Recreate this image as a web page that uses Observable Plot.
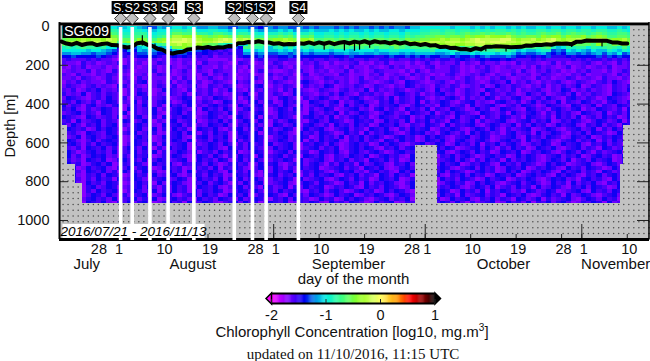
<!DOCTYPE html>
<html><head><meta charset="utf-8">
<script src="https://cdn.jsdelivr.net/npm/d3@7"></script>
<script src="https://cdn.jsdelivr.net/npm/@observablehq/plot@0.6"></script>
<style>
html,body{margin:0;padding:0;background:#fff;width:650px;height:361px;overflow:hidden}
svg{display:block}
.t{position:absolute;left:0;width:650px;text-align:center;color:#111;white-space:nowrap}
sup{font-size:10px;line-height:0}
</style></head><body><div id="c"></div>
<div class="t" style="top:323px;left:27px;font:15px 'Liberation Sans'">Chlorophyll Concentration [log10, mg.m<sup>3</sup>]</div>
<div class="t" style="top:346px;left:28px;font:15px 'Liberation Serif'">updated on 11/10/2016, 11:15 UTC</div>
<script>
// day index = days since 2016-07-21
const depthTicks=[0,200,400,600,800,1000];
const tickDays=[7,11,20,29,38,42,51,60,69,72,81,90,99,103,112];
const tickNames=["28","1","10","19","28","1","10","19","28","1","10","19","28","1","10"];
const monthStartDays=[11,42,72,103];
const monthDays=[5,26,56.8,87.5,109.7];
const monthNames=["July","August","September","October","November"];
const stripeDays=[11.7,14,17.5,21.1,26.2,34.2,37.8,40.5,46.9];
const stripeNames=["S1","S2","S3","S4","S3","S2","S1","S2","S4"];
// upper layer letter code: a=-2.0, b=-1.9, ... u=0
const upperEdges=[0,15,30,45,60,75,90,105,120,135,150,165,180];
const upperRows=[
"jjkikjkjkkkjjkkjihhjijkkjkjiijjiihhiihhghihiihhihihiiihihihiihihihiihjjkkkkkkjkkkjkjkjkkjkjkjjkkjkkjkkjkkjkkjjkjk",
"kkllkllklmmlkkllkjjkklmmlmlkkllkkjkkkjjiijjkjkijjkjjjkjkjkjjkjkjjkkjkkkllmmlmmlmmlmlmlmmlmlmllmmlmmlmmlmmlmmllmlk",
"lmmnmnnmnonmllmmmkkllmoonnommlnnmllmmllkkllmlmkllmkkllklkllklkllkllkmllmmnnmnnmnonnononnonmnmmnonnomnonnmnonmmnnm",
"nnoopoppoqpommnnnllmnorrqqrqpopqpoopoommmnnonomnnollmmlmlmmlmlmmlmmlnmnnooppoppoqpqqrqqqrpooppoqpqqoqppqopqpnnoon",
"oppqrqrrqsrpoooqpnnpqrsstssrqqrstssrsrppppqqrqpqqrnnoonononnonoonoonpooppqqrqrrqrstssssttrqrrsqrstrqrrsrqrsrpqqrp",
"qqrrsrssrrrnpqqrqopqrstttstsrrstssrrsrqqqrrsrsqrrsoppqpqqpppqppqpqqprqqrrssrsssrssttstttssrssrsstsqrssrrqrsqnpqrp",
"ononpooopnnjlmnmmkkmnrrsqrrqpoomlllkkonnnmmonnmnmnnnoononpooonoonpponoqppqqqrrqqrrssrrsrrqqrqqrrqpnnppooonqonpoqo",
"lmlmnmmlmkkghkhjklkijkppqppmlkgghghgnnmmkjlmkmklmlmmnmnnnmmnmnmnnmonmnnnnoomnnomonpoppqppomnmnmnoljkmlmmkmlmnmlnl",
"kkkkkjkkjihfgigjijihhhjkkihhgffefeffkkjkkjjkjkijkjkkkjkkkjkkkkjkkllkkklllmkkklmklmlmmmnmmljkjjkllhihkjkjikjjlkjlk",
"iijjiihiihgefgfhhihggghhhggfgfefefffiihiihhiihihihiiihiijiijiijiijjijijjjjiijkijjkjkkkjkkjhihhijhghgiihihijhjikhi",
"gghgggghgfedfefggggfefgfgfefefdeeeefggghgffgghgggggggfggfhggggffghgghghghgghhghgghghihhhihggfgfghfffgfgggghfhghgg",
"efeeefefeedcdedeededededeedeeddddeddeeefeeeffeefefeefeefefeefeeffefeefefefeffefgfefgfggfgfeeefefeeeeefefeffefefef"];
// deep layer letter code: e=-1.58, one letter = 0.07 (each cell averages much finer speckle)
const deepTop=180, deepStep=20, deepBase=-1.58, deepUnit=0.07;
const deepRows=[
"eddcfdecdedfcedecddfecdcedecfddedccfedcdedfecddcedfdcecddefcdcedfcddcecdfdceddfcedcfddecdcfdeedcdfcecddefdcedcfde",
"dcedfcddecdcfedcdeecdfdcdecfddcecdedcfddcedfdceddcfecddecfddcedcdfdecddcefcddfecdcedfdcdeddcecfdedcdfcdecdedfcdde",
"cdeddfcedcfdedcddefcdecdfdcedcfeddecdcdfedccdedfdcedecddfcedcdfedddcecfdcedddfecdcdefdcddecfdcedfdecdcedfddcecdfe",
"edcfddcedfecdcddecdfedcdeddcfcedfdcddecdcfdedecdfcdeddcfecddcedfcdedcfdedcdcefdcdedfdcedcfddecdfedcdcedfcddedcfde",
"ddecfedcdfdcedcfdedddcecfdecdfdceddcdefdcecdfddcedcdfeddecdfcdedcedfdcdecfdddecdfecdcedfdcdedcfdecddfecdedcfddced",
"cedfdeddcfecdedfgcdedfcedfdecdfedcgdefdcedfedcdfgedcedfdecdfedcdefdcgfedcdefdcedfedcdfedgcedfdcedefdcdfedcefdgedc",
"dfedcefdedcgfdedcedfedfcdegdcfedfedcdefgdcedfedcfdedgfcdedfecdfedcedgfdedcfedfecdedfcdgedfedcedfcedfdegcdfedcfedf",
"edfcdfegdedfcedfdecdgfedcfdedfcedgedcfedfdecfdgedcdfedcefdedgcfdedfecdefdcgdefcdfedcgfdedfcedefdcedgfcedfdedcfedg",
"fdedgcefdfedcedgfdcedfedfcgedfdecdfegdcfedfecdgfedcedfdgedcfefdecdfgedfcedfgdecdfedgcfedfecdgedfcdefdgcedfedcgfed",
"dgfedcefdgedfcedfgdefcdegfdcedgfedfcegdfedcfgedcfdegfdcedfgecdefdgcfedgfdcedfgecfdedgfcedfgdcefdgedcfgedfecdgfedc",
"efdgedfcegfdedgcfedfgecdfgedfecdgfedcfgdefcdgefdcgfedfgcedfgedcfegdfedgcfdegfdcefgdedcfgedfcegdfedgcfedgfdecfgedf",
"gdfecfgdedfgcefdgedfcgefdgcedfgefdcgedfgcefdgedfcefgdfecgdfegcdfefgdcegfdecgfdefcgdefgdcefdgfecdgfedcgfdegcfedgfe",
"fegdcfdegfdecgfdefgcedfgedfcgefdgecdfgefdcegfdgecfdegfcdefgdecfgdfecgefdgcfedgfecdgefcdgfedcgfdecfgedfgcedgfedfcg",
"defgdfecgfdegcfdefgdcefgdfecdgfedgcfedfgecdgfefdcgedfegcfdegfdcegfdecgfedgcefdgfedcgfedfcgedfgecfdgefdcgfedgcefdg",
"gfedcgfdefdgcefgdefcgdfegfcdegfdecfgedgcfedgfecdfgefdgcedfgefcdgfedfgcedgfefdcgdefgcfedgfdecgfedfcgefdgcefdgefcdg",
"efcgdefgdfecgfdegfcedfgdefgcdfegdfcegfdgecfdegfdcfgedgfecdgfefcdgefdgcfegdfecgfdegcfdefgdcefgdfegcdfegfdcegfdegcf",
"fdgecfegdfgcedfgefdcgefgdfcedgfegdcfegfdecgfdegcfgedfcgefdgefcdgfegdcfedgfecgdfefgdcegfdegcfdgefcdgefgdcfegdfecgf",
"dgfefcdgegfdcefgdegcfdgefcdgfegdcefgdfegcfdegfcdgefgdcefgdfecgfegdcfdgefgcdfegfdcegfdgecfdefgcdegfdcefgdegcfdgefc",
"gefdcgfedgfcefgdegfcdefgdgecfdgefcdgfegcdfegfdcgefdgfecdgefcgdfegfdcegfgdecfgedfcgegfdecfgdefcgdegfdcfegdgfecdgef",
"fdegcfgedfgecdfgefcdgefgdcefgdfegcdfgegfdcefgdegfcdgefdgcfegdfgecdfgefcdgegfdcefgdegfcdefgdcgefdgfecdgfegcdfegfdc",
"egfdcegdfgfecdgfegcdfegfdgcefdgefcgdfegfcdegfdegcfdgefgdcfegdfecgfdgefcdgfegdcfgedfgecdfgefcgdegfdcefgdfegcfdgefc",
"dfgecfdgefgdcegfdefcgdefgcfdegfdgecfdgefcgdefgdcfegfdgecdfgefcdgegfdcefgdegfcdgefdgcfegdfgecdfegfcdgefgdcfegdfecg",
"gedfcgfegdfcegfdgecfdgefgcdfegfdcgefdgfecdgefgdcefgdfegcdfgegfdcfegdfgcefdgegfcdefgdgecfdgefcdgfegdcefgdfecgfdegf",
"fgecdfgefdgcefgdfegcfdegfdgcefdgefgcdegfdcefgdgefcdgfegdcfgedfgecdfgefcgdefgdcegfdgefcdgfegcdfegfdcegfdgecfdefgcd",
"egdfcegfgdecfdgefgcdfegfdcegfdgecfdgefcgdefgdfecgfegdcfedgfegcdfgefdcgfegdcfegdfgecdfgefcdgegfdcefgdfegcdfgefcdge",
"gfdecgfegcdfgefdgcegfdefgcdgefdgfcegdfgecdfegfcgdefgdcfegdfecgfegdfcdgefgcdefgdgecfdgefcgdfegfdcegfdgcefdgefgcdfe",
"dgefcdfgegcdfegfdcgefgdcfegfdgecdfgefcdgefgdcefgdfgecfdgefcgdegfdcfegdgfecdgefgcdfegfdcgefdgfecdgegfcdefgdcegfdfg",
"fegcdgefgdcfegdfgecdgfefcdgefdgcfegfdcegfdgecfdgefgcdefgdfecgfegdcdfgefcgdegfdcefgdgefcdgfegcdfegfdcgefdgfecdgefg",
"gdfecgfegdfcgefdgfecdgefcgdfegfdcgefdgecfdgefgcdfegfdcegfgdecfgefdcgegfdcfegdgfecdfgefcdgegcdfegfdcgefgdfecgfdegf",
"efgdcfegdgfecdgefcgdefgdcegfdgefcdgfegdcefgdfegcfdgefgdcfegdfecgfdgefcgdegfdcfegdgefcdgfegcdfgefdcgegfdcfegdfgecd",
"dgfecfdgefcgdegfdcefgdegfcdgefdgcfegdfgecdfegfcgdefgdcegfdgefcdgfegcdfegfdcgefdgfecdgefgcdfegfdcegfgdecfgefdcgegf",
"fegdcgefdgfecdfgefcgdegfdcfegdfgecfdgefgcdefgdcegfdgfecdgefcgdfegfdcegfdgecdfgefcdgegfdcefgdfgecdgefcgdfegdcfegdf",
"gefdcfgdegfcdefgdgecfdgefcdgfegdcefgdfecgfdegcfdgefgcdfegfdcgefdgfecdgefgcdfegfdcegfdgcefdgefcgdegfdcfegdgfecdgef",
"dfegcfdgefgdcegfdegcfdgefcgdfegfcdegfdgecfdgefgdcfegdfgecdfgefcdgegfdcefgdegfcdgefdgcfegfdecgfdegfcdefgdcgefdgfec",
"efgdcegfdgecfdefgcdegfdcefgdgefcdgfegcdfegfdcgefdgfecdgefgcdfegfdcegfdgecfdgefcgdefgdfecgfegdcdfgefcgdegfdcefgdge",
"gfecdfgefdgcefgdfegcdfgefdcgefdgfecgdegfdcfegdgfecdgefcdgegfdcefgdfegcdfgefcdgefgdcfegdfecgfdegcfdefgdcegfdgefcdg",
"dgefcgfegdcfegdfgecdfgefcgdegfdcefgdgefcdgfegcdfegfdcgefdgfecdgefgcdfegfdcegfdgecfdefgcdgefdgcfegdfgecdfegfcgdefg"];
// depth [m] of the black line, one per day
const lineDepth=[78,88,93,84,95,89,86,96,90,87,96,97,103,108,104,86,82,94,100,115,120,135,139,133,130,118,116,108,111,106,112,107,108,101,102,86,86,80,82,76,82,82,89,86,93,90,92,86,89,82,90,82,89,82,91,84,80,87,78,83,76,85,76,82,80,87,80,88,82,91,88,95,90,98,96,106,104,111,110,117,116,122,112,118,104,105,102,103,104,107,106,105,98,99,94,95,92,94,88,89,88,91,78,78,72,74,74,74,74,82,82,88,88];
const spikeDays=[16,18.5,52,56,58,59,61,84,88,101,107];
const spikeTops=[48,90,84,84,80,80,78,106,100,86,72];
const spikeEnds=[100,118,122,126,128,122,112,130,132,108,106];
// regions without data: [day from, day to, depth from, depth to]
const noData=[[-1,0.1,0,1098],[0,1.2,510,710],[0,2.8,710,810],[0,4.2,810,910],[70.1,74.4,612,910],[111.2,118,510,710],[110.6,118,710,910],[112.7,118,0,510],[-1,118,910,1098]];
const barStops=[-2,-1.7,-1.4,-1.2,-1,-0.7,-0.4,-0.1,0,0.3,0.55,0.8,1];
const barColors=["#ff00ff","#8000ff","#0000f0","#0090e8","#00f0e0","#40ff80","#90ff20","#e0ff60","#ffff60","#ff9a00","#ff0000","#800000","#000000"];
const barTicks=[-2,-1,0,1];

const level=ch=>-2+0.1*(ch.charCodeAt(0)-97);
const deepLevel=ch=>deepBase+deepUnit*(ch.charCodeAt(0)-101);
const cells=[];
upperRows.forEach((row,i)=>{for(let d=0;d<113;d++)cells.push({d,z1:upperEdges[i],z2:upperEdges[i+1],v:level(row[Math.min(d,row.length-1)])})});
deepRows.forEach((row,i)=>{for(let d=0;d<113;d++)cells.push({d,z1:deepTop+i*deepStep,z2:deepTop+(i+1)*deepStep,v:deepLevel(row[Math.min(d,row.length-1)])})});
const masks=noData.map(([d1,d2,z1,z2])=>({d1,d2,z1,z2}));
const dots=[];
for(const d of d3.range(0.3,117,1))for(const z of d3.range(17,1098,30))
  if(masks.some(m=>d>=m.d1&&d<=m.d2&&z>=m.z1&&z<=m.z2))dots.push({d,z});
const color={type:"linear",domain:barStops,range:barColors,clamp:true};
const sans="Liberation Sans";
const H=213;
const mid={textAnchor:"middle",lineAnchor:"middle"};
const main=Plot.plot({
  width:650,height:290,marginLeft:59,marginRight:1,marginTop:26,marginBottom:51,
  style:{fontFamily:sans,background:"transparent",color:"#111",overflow:"visible"},
  x:{domain:[-0.4,116.4],axis:null},
  y:{domain:[0,1098],reverse:true,axis:null},
  color,
  marks:[
    Plot.rect([0],{x1:-0.4,x2:116.4,y1:0,y2:1098,fill:"#c2c2c2"}),
    Plot.rect(cells,{x1:"d",x2:d=>d.d+1,y1:"z1",y2:"z2",fill:"v",shapeRendering:"crispEdges"}),
    Plot.rect(masks,{x1:"d1",x2:"d2",y1:"z1",y2:"z2",fill:"#c2c2c2",shapeRendering:"crispEdges",clip:true}),
    Plot.dot(dots,{x:"d",y:"z",r:0.75,fill:"#4a4a4a"}),
    Plot.line(lineDepth,{x:(d,i)=>i,y:d=>d,stroke:"#000",strokeWidth:4,curve:"linear"}),
    Plot.ruleX(spikeDays,{x:d=>d,y1:(d,i)=>spikeTops[i],y2:(d,i)=>spikeEnds[i],stroke:"#000",strokeWidth:1.2}),
    Plot.tickY(depthTicks.slice(1),{y:d=>d,insetRight:581,stroke:"#222",strokeWidth:1}),
    Plot.tickY(depthTicks.slice(1),{y:d=>d,insetLeft:578,stroke:"#222",strokeWidth:1}),
    Plot.tickX(tickDays,{x:d=>d,insetTop:H-5,stroke:"#222",strokeWidth:1}),
    Plot.tickX(monthStartDays,{x:d=>d,insetTop:H-15,stroke:"#222",strokeWidth:1}),
    Plot.ruleY([0],{stroke:"#000",strokeWidth:3,dy:-2.5}),
    Plot.ruleY([1098],{stroke:"#000",strokeWidth:3}),
    Plot.ruleX([-0.4],{stroke:"#000",strokeWidth:2,y1:-20,y2:1098}),
    Plot.ruleX([116.4],{stroke:"#000",strokeWidth:1.5,y1:-20,y2:1098,dx:-0.5}),
    Plot.ruleX(stripeDays,{x:d=>d,y1:0,y2:1098,stroke:"#fff",strokeWidth:3.6,dy:1}),
    Plot.dot(["SG609"],{frameAnchor:"top-left",dx:27,dy:4.5,fill:"#000",symbol:{draw(c){c.rect(-24,-7,48,14)}},r:5}),
    Plot.text(["SG609"],{frameAnchor:"top-left",dx:27,dy:4.5,text:d=>d,fill:"#fff",fontSize:14.5,...mid}),
    Plot.dot(["d"],{frameAnchor:"bottom-left",dx:74,dy:-8,fill:"#fff",symbol:{draw(c){c.rect(-71,-7.5,142,14)}},r:5}),
    Plot.text(["2016/07/21 - 2016/11/13"],{frameAnchor:"bottom-left",dx:74,dy:-8,text:d=>d,fill:"#000",fontSize:13.5,fontStyle:"italic",...mid}),
    Plot.dot(stripeDays,{x:d=>d,frameAnchor:"top",dy:-8,r:5.5,symbol:"diamond2",fill:"#c0c0c0",stroke:"#333",strokeWidth:1}),
    ...stripeDays.flatMap((d,i)=>[
      Plot.dot([d],{x:v=>v,frameAnchor:"top",dy:-19,fill:"#000",r:5,symbol:{draw(c){c.rect(-9,-6.5,18,13)}}}),
      Plot.text([stripeNames[i]],{x:()=>d,frameAnchor:"top",dy:-19,text:v=>v,fill:"#fff",fontSize:12.5,...mid})
    ]),
    Plot.axisY({ticks:depthTicks,tickSize:0,tickPadding:10,label:null,fontSize:14.5,anchor:"left",tickFormat:d=>String(d)}),
    Plot.axisX({ticks:tickDays,tickFormat:d=>tickNames[tickDays.indexOf(d)],tickSize:0,tickPadding:4,label:null,fontSize:14.5,dx:2,anchor:"bottom"}),
    Plot.text(monthNames,{x:(d,i)=>monthDays[i],frameAnchor:"bottom",dy:25,text:d=>d,fontSize:15,fill:"#111",...mid}),
    Plot.text(["day of the month"],{frameAnchor:"bottom",dx:-1,dy:40,text:d=>d,fontSize:15,fill:"#111",...mid}),
    Plot.text(["Depth [m]"],{frameAnchor:"left",dx:-49,dy:-7,rotate:-90,text:d=>d,fontSize:14.5,fill:"#111",textAnchor:"middle"})
  ]
});
const barSteps=d3.range(-2,1,0.02);
const bar=Plot.plot({
  width:650,height:34,marginLeft:271,marginRight:215.5,marginTop:3,marginBottom:21,
  style:{fontFamily:sans,background:"transparent",color:"#111",overflow:"visible"},
  x:{domain:[-2,1],axis:null},
  y:{domain:[0,1],axis:null},
  color,
  marks:[
    Plot.rect(barSteps,{x1:d=>d,x2:d=>d+0.025,y1:0,y2:1,fill:d=>d}),
    Plot.dot([-2],{x:d=>d,frameAnchor:"middle",fill:"#ff00ff",stroke:"#000",strokeWidth:1.5,r:5,symbol:{draw(c){c.moveTo(0,-5.5);c.lineTo(-5.5,0);c.lineTo(0,5.5);c.closePath()}}}),
    Plot.dot([1],{x:d=>d,frameAnchor:"middle",fill:"#000",stroke:"#000",strokeWidth:1.5,r:5,symbol:{draw(c){c.moveTo(0,-5.5);c.lineTo(5.5,0);c.lineTo(0,5.5);c.closePath()}}}),
    Plot.ruleY([0,1],{y:d=>d,stroke:"#000",strokeWidth:1.8}),
    Plot.tickX(barTicks,{x:d=>d,insetTop:6,stroke:"#222",strokeWidth:1}),
    Plot.axisX({ticks:barTicks,tickSize:0,tickPadding:6,label:null,fontSize:14.5,anchor:"bottom",tickFormat:d=>String(d)})
  ]
});
document.getElementById("c").append(main,bar);
</script></body></html>
